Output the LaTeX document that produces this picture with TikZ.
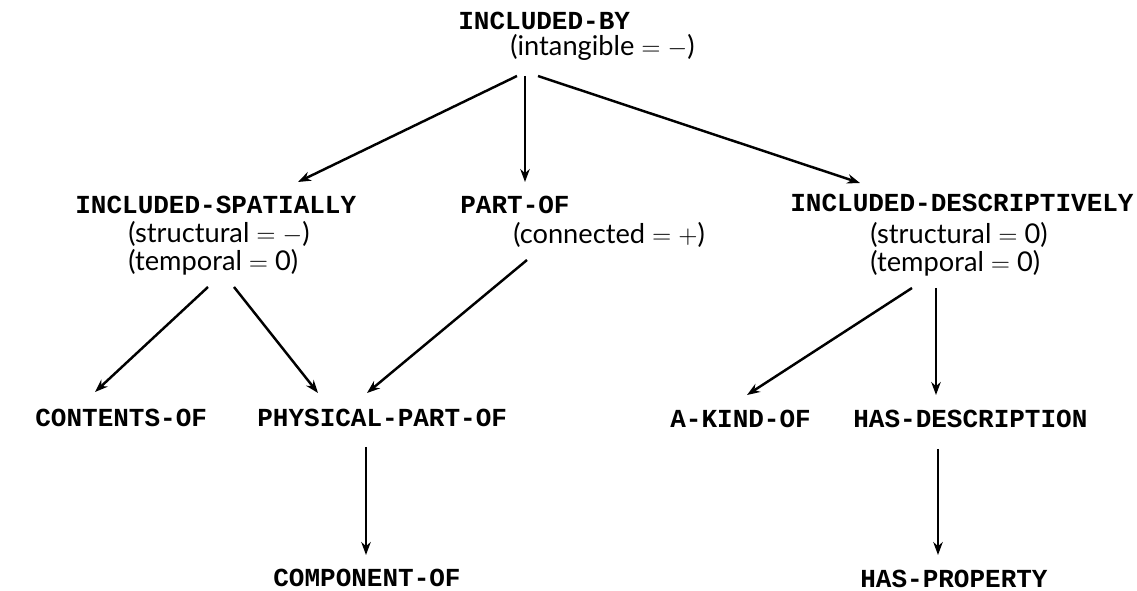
\documentclass[tikz,border=0pt]{standalone}
\usepackage{fontspec}
\usepackage{tikz}
\usetikzlibrary{arrows.meta,positioning}
\newfontfamily\relfont{Liberation Mono}
\newfontfamily\attrfont{Lato}

\begin{document}
\begin{tikzpicture}[
  x=0.02cm, y=-0.02cm,
  rel/.style={anchor=base west, inner sep=0pt, font=\relfont\bfseries\fontsize{14.8}{16}\selectfont},
  attr/.style={anchor=base west, inner sep=0pt, font=\attrfont\fontsize{15.5}{17}\selectfont},
  arr/.style={-{Stealth[length=2.6mm,width=1.9mm]}, line width=1.4pt}
]
\useasboundingbox (0,0) rectangle (1137,591);
% top
\node[rel] (by) at (458,30) {INCLUDED-BY};
\node[attr] (byattr) at (510,56) {(intangible~$=$~$-$)};
% second row
\node[rel] (sp) at (75,214) {INCLUDED-SPATIALLY};
\node[attr] (spa) at (128,243) {(structural~$=$~$-$)};
\node[attr] (spb) at (128,271) {(temporal~$=$~0)};
\node[rel] (po) at (460,214) {PART-OF};
\node[attr] (poa) at (513,244) {(connected~$=$~$+$)};
\node[rel] (de) at (790,212) {INCLUDED-DESCRIPTIVELY};
\node[attr] (dea) at (870,244) {(structural~$=$~0)};
\node[attr] (deb) at (870,272) {(temporal~$=$~0)};
% third row
\node[rel] (co) at (35,427) {CONTENTS-OF};
\node[rel] (pp) at (257,427) {PHYSICAL-PART-OF};
\node[rel] (ak) at (670,428) {A-KIND-OF};
\node[rel] (hd) at (853,428) {HAS-DESCRIPTION};
% bottom
\node[rel] (cp) at (273,586) {COMPONENT-OF};
\node[rel] (hp) at (860,587) {HAS-PROPERTY};
\draw[arr] ([shift={(59,46)}]by.base west) -- ([shift={(223,-32)}]sp.base west);
\draw[arr] ([shift={(67,46)}]by.base west) -- ([shift={(65,-32)}]po.base west);
\draw[arr] ([shift={(80,46)}]by.base west) -- ([shift={(70,-29)}]de.base west);
\draw[arr] ([shift={(133,73)}]sp.base west) -- ([shift={(60,-35)}]co.base west);
\draw[arr] ([shift={(159,73)}]sp.base west) -- ([shift={(61,-34)}]pp.base west);
\draw[arr] ([shift={(67,46)}]po.base west) -- ([shift={(110,-34)}]pp.base west);
\draw[arr] ([shift={(122,76)}]de.base west) -- ([shift={(77,-33)}]ak.base west);
\draw[arr] ([shift={(146,76)}]de.base west) -- ([shift={(83,-33)}]hd.base west);
\draw[arr] ([shift={(109,20)}]pp.base west) -- ([shift={(93,-31)}]cp.base west);
\draw[arr] ([shift={(85,21)}]hd.base west) -- ([shift={(78,-32)}]hp.base west);
\end{tikzpicture}
\end{document}
